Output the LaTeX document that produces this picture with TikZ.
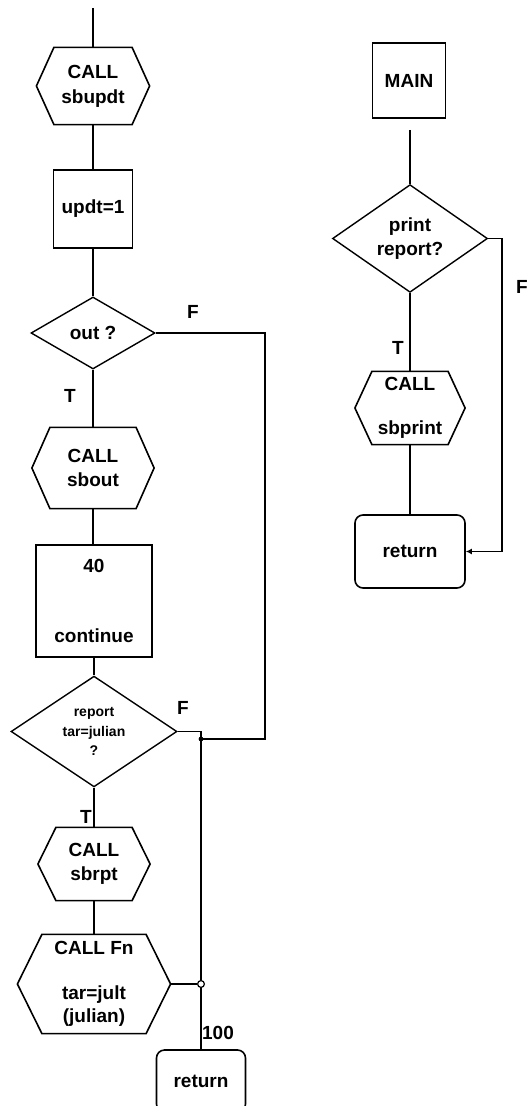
\documentclass[tikz,border=0pt]{standalone}
\usepackage{fontspec}
\setmainfont{Liberation Sans}
\usetikzlibrary{shapes.geometric,arrows.meta}
\tikzset{
  every node/.style={font=\bfseries\fontsize{9.5}{11.75}\selectfont,inner sep=0pt},
  blk/.style={draw,rectangle,align=center,line width=0.8pt},
  rblk/.style={blk,rounded corners=4pt},
  hexa/.style={rectangle,align=center},
  test/.style={draw,diamond,align=center,line width=0.7pt},
  lab/.style={anchor=center},
}
\begin{document}
\begin{tikzpicture}[x=0.5pt,y=-0.5pt,line width=0.6pt]
\clip (0,0) rectangle (526,1106);
% left flow: sbupdt .. return 100
\coordinate (in) at (93,8);
\node[hexa,minimum width=56pt,minimum height=38pt] (sbupdt) at (93,86) {CALL\\[0.8pt]sbupdt};
\node[blk,minimum width=39.5pt,minimum height=39pt] (updt) at (93,209) {updt=1};
\node[test,minimum width=62pt,minimum height=36pt] (out) at (93,333) {out ?};
\node[hexa,minimum width=60.5pt,minimum height=40pt] (sbout) at (93,468) {CALL\\sbout};
\node[blk,minimum width=58pt,minimum height=56pt] (cont) at (94,601) {40\\[23pt]continue};
\node[test,minimum width=83pt,minimum height=53.5pt,font=\bfseries\fontsize{7}{9.75}\selectfont] (rep) at (94,731.5) {report\\tar=julian\\?};
\node[hexa,minimum width=55.5pt,minimum height=36pt] (sbrpt) at (94,864) {CALL\\sbrpt};
\node[hexa,minimum width=76pt,minimum height=49pt] (fn) at (94,984) {CALL Fn\\[10.5pt]tar=jult\\(julian)};
\node[rblk,minimum width=44.5pt,minimum height=31pt] (ret2) at (201,1081) {return};
\coordinate (jn) at (201,739);
\coordinate (outF) at (265,739);
\coordinate (jc) at (201,984);
% right flow: MAIN
\node[blk,minimum width=36.5pt,minimum height=37.5pt] (main) at (409,80.5) {MAIN};
\coordinate (mtop) at (410,130);
\node[test,minimum width=77.5pt,minimum height=51.5pt] (prt) at (410,238.5) {print\\report?};
\node[hexa,minimum width=54.5pt,minimum height=36pt] (sbprint) at (410,408) {CALL\\[10.5pt]sbprint};
\node[rblk,minimum width=55pt,minimum height=36.5pt] (ret1) at (410,551.5) {return};
\coordinate (prtF) at (502,551.5);
% hexagons
\foreach \n/\d in {sbupdt/17.5,sbout/18,sbrpt/18,fn/24.5,sbprint/17}
  \draw[line width=0.8pt] (\n.west) -- ([shift={(\d,0)}]\n.north west) -- ([shift={(-\d,0)}]\n.north east)
    -- (\n.east) -- ([shift={(-\d,0)}]\n.south east) -- ([shift={(\d,0)}]\n.south west) -- cycle;
% connectors
\draw (in) -- (sbupdt.north);
\draw (sbupdt.south) -- (updt.north);
\draw (updt.south) -- (out.north);
\draw (out.south) -- (sbout.north);
\draw (sbout.south) -- ([xshift=-0.5pt]cont.north);
\draw (cont.south) -- (rep.north);
\draw (rep.south) -- (sbrpt.north);
\draw (sbrpt.south) -- (fn.north);
\draw (out.east) -| (outF) -- (jn);
\fill (jn) circle (1.2pt);
\draw (rep.east) -| (ret2.north);
\node[draw,circle,fill=white,minimum size=3.4pt,line width=0.6pt] (jcirc) at (jc) {};
\draw (fn.east) -- (jcirc.west);
\draw (mtop) -- (prt.north);
\draw (prt.south) -- (sbprint.north);
\draw (sbprint.south) -- (ret1.north);
\draw[-{Latex[length=3pt,width=3pt]}] (prt.east) -| (prtF) -- (ret1.east);
% labels
\node[lab] (t1) at (70,396) {T};
\node[lab] (f1) at (193,312) {F};
\node[lab] (t2) at (86,817) {T};
\node[lab] (f2) at (183,708) {F};
\node[lab] (n100) at (218,1033) {100};
\node[lab] (t3) at (398,348) {T};
\node[lab] (f3) at (522,287) {F};
\end{tikzpicture}
\end{document}
